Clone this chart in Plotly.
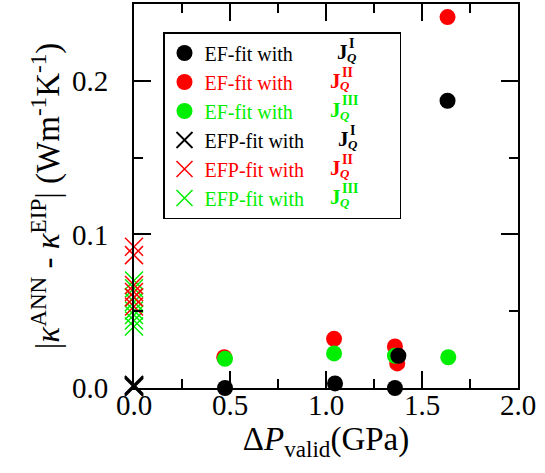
import plotly.graph_objects as go

# ---- data ----
ef_x_I = [0.474, 1.047, 1.359, 1.377, 1.633]
ef_y_I = [0.0, 0.003, 0.0, 0.021, 0.187]
ef_x_II = [0.470, 1.042, 1.359, 1.371, 1.633]
ef_y_II = [0.020, 0.032, 0.027, 0.016, 0.2415]
ef_x_III = [0.474, 1.042, 1.359, 1.637]
ef_y_III = [0.019, 0.0225, 0.021, 0.020]

efp_x_I = [0.0, 0.0, 0.0, 0.0]
efp_y_I = [0.0005, 0.001, 0.0015, 0.002]
efp_x_II = [0.0, 0.0, 0.0, 0.0, 0.0, 0.0]
efp_y_II = [0.092, 0.0865, 0.067, 0.0625, 0.059, 0.053]
efp_x_III = [0.0, 0.0, 0.0, 0.0, 0.0, 0.0, 0.0, 0.0]
efp_y_III = [0.070, 0.065, 0.059, 0.056, 0.0505, 0.0475, 0.044, 0.040]

numerals = ["I", "II", "III"]
BLACK, RED, GREEN = "#000000", "#ff0000", "#00ee00"
colors = [BLACK, RED, GREEN]

FONT = "Liberation Serif"
W, H = 545, 473
ML, MR, MT, MB = 134, 27, 4, 85
NB = "\u00a0"

fig = go.Figure()

def label(txt, col, pad):
    return f"<span style='color:{col}'>{txt}</span>" + NB * pad

# draw order: EFP green, red, black ; EF red, green, black
fig.add_trace(go.Scatter(x=efp_x_III, y=efp_y_III, mode="markers", name=label("EFP-fit with", GREEN, 18),
                         marker=dict(symbol="x-thin-open", size=18, color=GREEN, line=dict(width=1.5, color=GREEN)),
                         legendrank=6, cliponaxis=False))
fig.add_trace(go.Scatter(x=efp_x_II, y=efp_y_II, mode="markers", name=label("EFP-fit with", RED, 18),
                         marker=dict(symbol="x-thin-open", size=18, color=RED, line=dict(width=1.5, color=RED)),
                         legendrank=5, cliponaxis=False))
fig.add_trace(go.Scatter(x=efp_x_I, y=efp_y_I, mode="markers", name=label("EFP-fit with", BLACK, 18),
                         marker=dict(symbol="x-thin-open", size=18, color=BLACK, line=dict(width=1.8, color=BLACK)),
                         legendrank=4, cliponaxis=False))
fig.add_trace(go.Scatter(x=ef_x_II, y=ef_y_II, mode="markers", name=label("EF-fit with", RED, 20),
                         marker=dict(symbol="circle", size=16, color=RED, line=dict(width=0)),
                         legendrank=2, cliponaxis=False))
fig.add_trace(go.Scatter(x=ef_x_III, y=ef_y_III, mode="markers", name=label("EF-fit with", GREEN, 20),
                         marker=dict(symbol="circle", size=16, color=GREEN, line=dict(width=0)),
                         legendrank=3, cliponaxis=False))
fig.add_trace(go.Scatter(x=ef_x_I, y=ef_y_I, mode="markers", name=label("EF-fit with", BLACK, 20),
                         marker=dict(symbol="circle", size=16, color=BLACK, line=dict(width=0)),
                         legendrank=1, cliponaxis=False))

# J_Q labels in legend (pixel positions)
pw, ph = W - ML - MR, H - MT - MB
def px(x):
    return (x - ML) / pw
def py(y):
    return (H - MB - y) / ph

rows_y = [52, 81, 110, 139, 168, 197]
rows_x = [335, 328, 328, 336, 328, 328]
rows_n = [0, 1, 2, 0, 1, 2]
for ry, rx, n in zip(rows_y, rows_x, rows_n):
    col = colors[n]
    fig.add_annotation(x=px(rx), y=py(ry), xref="paper", yref="paper", text="<b>J</b>",
                       showarrow=False, xanchor="left", yanchor="middle",
                       font=dict(family=FONT, size=21, color=col))
    fig.add_annotation(x=px(rx + 12), y=py(ry - 9), xref="paper", yref="paper", text=f"<b>{numerals[n]}</b>",
                       showarrow=False, xanchor="left", yanchor="middle",
                       font=dict(family=FONT, size=14, color=col))
    fig.add_annotation(x=px(rx + 10), y=py(ry + 5), xref="paper", yref="paper", text="<b><i>Q</i></b>",
                       showarrow=False, xanchor="left", yanchor="middle",
                       font=dict(family=FONT, size=13, color=col))

axis_common = dict(showline=True, linecolor="black", linewidth=2, mirror="allticks",
                   ticks="inside", ticklen=17, tickwidth=1.5, tickcolor="black",
                   showgrid=False, zeroline=False,
                   tickfont=dict(family=FONT, size=29, color="black"))

fig.update_xaxes(range=[0, 2.0], dtick=0.5, tick0=0, tickformat=".1f",
                 minor=dict(dtick=0.25, ticks="inside", ticklen=9, tickwidth=1.5, tickcolor="black"),
                 ticklabelstandoff=-10,
                 title=dict(text="Δ<i>P</i><sub>valid</sub>(GPa)", font=dict(family=FONT, size=33, color="black"),
                            standoff=6),
                 **axis_common)
fig.update_yaxes(range=[0, 0.25], dtick=0.1, tick0=0, tickformat=".1f",
                 minor=dict(dtick=0.05, ticks="inside", ticklen=9, tickwidth=1.5, tickcolor="black"),
                 ticklabelstandoff=18,
                 title=dict(text="|<i>κ</i><sup>ANN</sup> - <i>κ</i><sup>EIP</sup>| (Wm<sup>-1</sup>K<sup>-1</sup>)",
                            font=dict(family=FONT, size=33, color="black"), standoff=2),
                 **axis_common)

fig.update_layout(
    width=W, height=H,
    margin=dict(l=ML, r=MR, t=MT, b=MB, autoexpand=False),
    paper_bgcolor="white", plot_bgcolor="white",
    showlegend=True,
    legend=dict(x=px(163), y=py(32), xanchor="left", yanchor="top",
                bgcolor="white", bordercolor="black", borderwidth=1.5,
                font=dict(family=FONT, size=20, color="black"),
                tracegroupgap=0, itemsizing="trace"),
)

fig.write_html("out.html", config={"displayModeBar": False},
               post_script="document.body.style.margin='0';document.body.style.overflow='hidden';")
